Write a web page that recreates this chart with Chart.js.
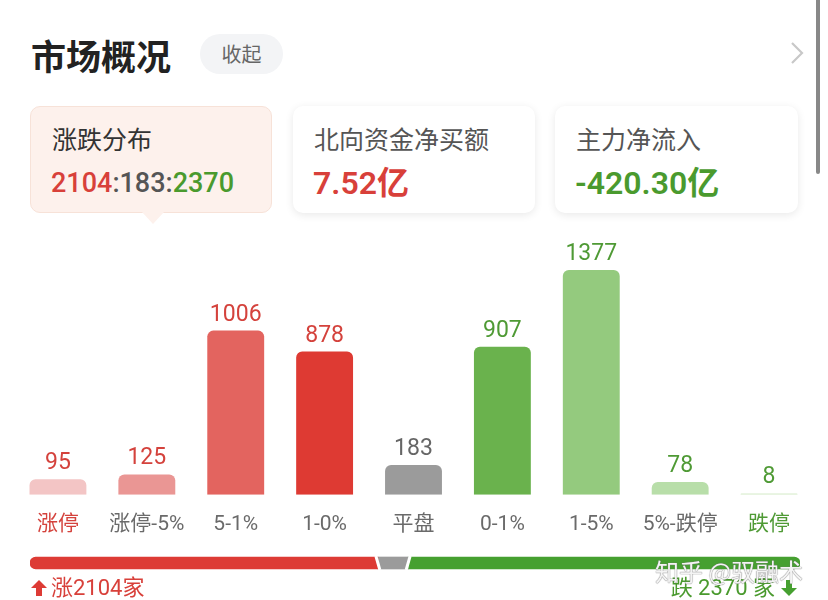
<!DOCTYPE html>
<html>
<head>
<meta charset="utf-8">
<script src="https://cdn.jsdelivr.net/npm/chart.js@4.4.0/dist/chart.umd.min.js"></script>
<style>
  body { margin: 0; width: 828px; height: 600px; overflow: hidden; background: #fff;
         font-family: Roboto, "Noto Sans CJK SC", sans-serif; position: relative; }
  .abs { position: absolute; white-space: nowrap; }
  #title { left: 31px; top: 34px; height: 42px; line-height: 42px; font-size: 35px; font-weight: 700; color: #222;
           font-family: "Noto Sans CJK SC", sans-serif; }
  #fold { left: 200px; top: 34px; width: 83px; height: 40px; line-height: 40px; border-radius: 20px;
          background: #f3f4f6; color: #666; font-size: 20px; text-align: center; font-family: "Noto Sans CJK SC", sans-serif; }
  #scroll { left: 816px; top: 0; width: 4px; height: 174px; background: #888; border-radius: 0 0 2px 2px; }
  .card { position: absolute; top: 106px; height: 107px; border-radius: 10px; background: #fff;
          box-shadow: 0 2px 9px rgba(0,0,0,0.09); }
  .card .t { position: absolute; left: 21px; top: 15px; line-height: 34px; font-size: 25px; color: #555;
             font-family: "Noto Sans CJK SC", sans-serif; }
  .card .v { position: absolute; left: 20px; top: 59px; line-height: 36px; font-size: 32px; font-weight: 600; }
  #c1 { left: 30px; width: 242px; background: #fdf1ec; box-shadow: none; border: 1px solid #f7e2d8; box-sizing: border-box; }
  #c1 .t { color: #333; top: 14px; }
  #c1 .v { font-size: 27px; font-weight: 500; top: 58px; }
  #c1 .ptr { position: absolute; left: 111px; top: 105px; width: 0; height: 0;
             border-left: 11px solid transparent; border-right: 11px solid transparent; border-top: 12px solid #fdf1ec; }
  #c2 { left: 293px; width: 242px; }
  #c3 { left: 555px; width: 243px; }
  .red { color: #d8403a; }
  .green { color: #4a9a2e; }
  .gray { color: #555; }
  #main { position: absolute; left: 0; top: 230px; }
  #breadth { position: absolute; left: 0; top: 549px; }
  .foot { position: absolute; top: 575px; height: 26px; line-height: 26px; font-size: 22px; }
  #upLbl { left: 30px; }
  #downLbl { right: 30px; }
  #mark { position: absolute; left: 655px; top: 553px; font-size: 24px; color: rgba(255,255,255,0.92);
          font-family: "Noto Sans CJK SC", sans-serif; text-shadow: 0 0 1px #777, 0 0 1px #777; }
</style>
</head>
<body>
<div id="title" class="abs">市场概况</div>
<div id="fold" class="abs">收起</div>
<svg class="abs" style="left:788px;top:40px" width="18" height="26">
  <polyline points="4,3 14,13 4,23" fill="none" stroke="#c8c8c8" stroke-width="2.2"/>
</svg>
<div id="scroll" class="abs"></div>

<div class="card" id="c1">
  <div class="t">涨跌分布</div>
  <div class="v" id="ratio"></div>
  <div class="ptr"></div>
</div>
<div class="card" id="c2">
  <div class="t">北向资金净买额</div>
  <div class="v red" id="north"></div>
</div>
<div class="card" id="c3">
  <div class="t">主力净流入</div>
  <div class="v green" id="flow"></div>
</div>

<canvas id="main" width="828" height="324"></canvas>
<canvas id="breadth" width="828" height="28"></canvas>

<div class="foot red" id="upLbl"></div>
<div class="foot green" id="downLbl"></div>
<div id="mark">知乎 @驭融术</div>

<script>
// 涨跌分布 buckets
const categories = ['涨停', '涨停-5%', '5-1%', '1-0%', '平盘', '0-1%', '1-5%', '5%-跌停', '跌停'];
const counts = [95, 125, 1006, 878, 183, 907, 1377, 78, 8];
const barColors = ['#f3c5c5', '#ea9694', '#e3645f', '#de3a33', '#9b9b9b', '#6ab24d', '#94ca7e', '#b8dea9', '#d6ecca'];
const valueColors = ['#d4423c', '#d4423c', '#d4423c', '#d4423c', '#666666', '#4f9a35', '#4f9a35', '#4f9a35', '#4f9a35'];
const tickColors = ['#d4423c', '#6a6a6a', '#6a6a6a', '#6a6a6a', '#6a6a6a', '#6a6a6a', '#6a6a6a', '#6a6a6a', '#4f9a35'];

// up / flat / down totals
const breadthLabels = ['涨', '平', '跌'];
const breadth = [2104, 183, 2370];
const breadthColors = ['#dd3b35', '#9b9b9b', '#46a030'];

const northValue = '7.52';
const flowValue = '-420.30';

document.getElementById('ratio').innerHTML =
  `<span class="red">${breadth[0]}</span><span class="gray">:${breadth[1]}:</span><span class="green">${breadth[2]}</span>`;
document.getElementById('north').textContent = `${northValue}亿`;
document.getElementById('flow').textContent = `${flowValue}亿`;

const arrowUp = '<svg width="18" height="18" style="vertical-align:-2px;margin-right:3px"><polygon points="9,1 17,9 12,9 12,17 6,17 6,9 1,9" fill="#dd3b35"/></svg>';
const arrowDown = '<svg width="18" height="18" style="vertical-align:-2px;margin-left:5px"><polygon points="9,17 17,9 12,9 12,1 6,1 6,9 1,9" fill="#46a030"/></svg>';
document.getElementById('upLbl').innerHTML = `${arrowUp}${breadthLabels[0]}${breadth[0]}家`;
document.getElementById('downLbl').innerHTML = `${breadthLabels[2]} ${breadth[2]} 家${arrowDown}`;

// numbers above the bars
const valueLabels = {
  id: 'valueLabels',
  afterDatasetsDraw(chart) {
    const ctx = chart.ctx;
    const meta = chart.getDatasetMeta(0);
    ctx.save();
    ctx.font = '23px Roboto, sans-serif';
    ctx.textAlign = 'center';
    ctx.textBaseline = 'alphabetic';
    meta.data.forEach((bar, i) => {
      ctx.fillStyle = valueColors[i];
      ctx.fillText(String(counts[i]), bar.x, bar.y - 10);
    });
    ctx.restore();
  }
};

new Chart(document.getElementById('main').getContext('2d'), {
  type: 'bar',
  data: {
    labels: categories,
    datasets: [{
      data: counts,
      backgroundColor: barColors,
      borderRadius: { topLeft: 6, topRight: 6, bottomLeft: 0, bottomRight: 0 },
      borderSkipped: 'start',
      categoryPercentage: 1,
      barPercentage: 0.64
    }]
  },
  options: {
    responsive: false,
    animation: false,
    layout: { padding: { left: 13.5, right: 14.5, top: 20, bottom: 0 } },
    plugins: { legend: { display: false }, tooltip: { enabled: false } },
    scales: {
      x: {
        grid: { display: false, drawTicks: false },
        border: { display: false },
        ticks: {
          padding: 17,
          color: tickColors,
          font: { size: 21, family: 'Roboto, "Noto Sans CJK SC", sans-serif' }
        }
      },
      y: { display: false, min: 0, max: 1500 }
    }
  },
  plugins: [valueLabels]
});

// slanted white cuts between the segments
const slantCuts = {
  id: 'slantCuts',
  afterDatasetsDraw(chart) {
    const ctx = chart.ctx;
    const xs = chart.scales.x;
    const bar = chart.getDatasetMeta(0).data[0];
    const top = bar.y - 7, bottom = bar.y + 7;
    const b1 = xs.getPixelForValue(breadth[0]);
    const b2 = xs.getPixelForValue(breadth[0] + breadth[1]);
    ctx.save();
    ctx.strokeStyle = '#fff';
    ctx.lineWidth = 3;
    ctx.beginPath();
    ctx.moveTo(b1 - 2, top); ctx.lineTo(b1 + 2, bottom);
    ctx.moveTo(b2 + 2, top); ctx.lineTo(b2 - 2, bottom);
    ctx.stroke();
    ctx.restore();
  }
};

const total = breadth.reduce((a, b) => a + b, 0);
new Chart(document.getElementById('breadth').getContext('2d'), {
  type: 'bar',
  data: {
    labels: [''],
    datasets: breadth.map((v, i) => ({
      label: breadthLabels[i],
      data: [v],
      backgroundColor: breadthColors[i],
      borderSkipped: false,
      borderRadius: i === 0 ? { topLeft: 6, bottomLeft: 6, topRight: 0, bottomRight: 0 }
                  : i === 2 ? { topLeft: 0, bottomLeft: 0, topRight: 6, bottomRight: 6 } : 0,
      barThickness: 12
    }))
  },
  options: {
    indexAxis: 'y',
    responsive: false,
    animation: false,
    layout: { padding: { left: 30, right: 28, top: 0, bottom: 0 } },
    plugins: { legend: { display: false }, tooltip: { enabled: false } },
    scales: {
      x: { display: false, stacked: true, min: 0, max: total },
      y: { display: false, stacked: true }
    }
  },
  plugins: [slantCuts]
});
</script>
</body>
</html>
